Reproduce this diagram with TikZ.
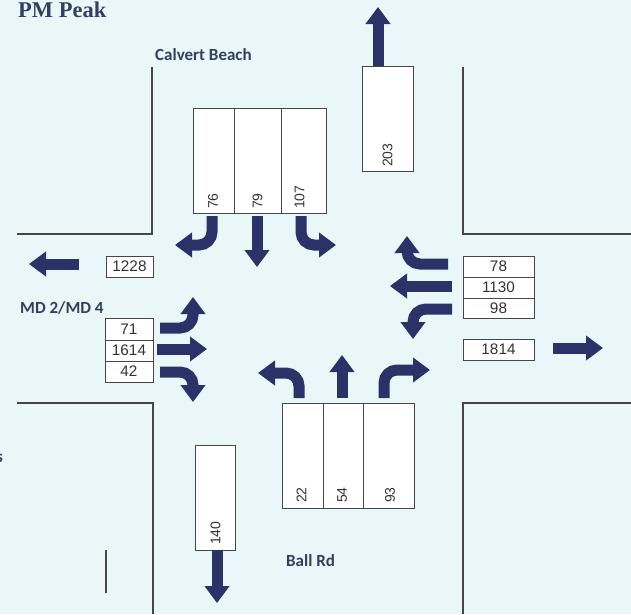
\documentclass[tikz,border=0pt]{standalone}
\usepackage{fontspec}
\setmainfont{Liberation Serif}
\newfontfamily\lblfont{Carlito}
\newfontfamily\numfont{Liberation Sans}
\usetikzlibrary{arrows.meta}
\definecolor{bgc}{RGB}{233,247,249}
\definecolor{navy}{RGB}{42,50,104}
\definecolor{labelc}{RGB}{52,62,98}
\definecolor{linec}{RGB}{70,70,70}
\begin{document}
\begin{tikzpicture}[x=1pt,y=-1pt,
  road/.style={draw=linec, line width=1.1pt},
  box/.style={draw=linec, fill=white, line width=0.9pt},
  num/.style={font=\numfont\fontsize{15.3}{16}\selectfont, text=black!80, inner sep=0pt},
  vnum/.style={font=\numfont\fontsize{14}{15}\selectfont, text=black!80, inner sep=0pt, rotate=90, anchor=west},
  hbox/.style={box, num, minimum height=21pt},
  rdlabel/.style={font=\lblfont\bfseries\fontsize{17}{18}\selectfont, text=labelc, inner sep=0pt, anchor=base west},
  arr/.style={draw=navy, line width=11pt, -{Triangle[width=24pt,length=17pt]}, rounded corners=13pt},
]
\fill[bgc] (0,0) rectangle (631,614);
\useasboundingbox (0,0) rectangle (631,614);

% titles and road names
\node[font=\bfseries\fontsize{22.5}{24}\selectfont, text=labelc, inner sep=0pt, anchor=base west] (title) at (18,17) {PM Peak};
\node[rdlabel] (calvert) at (155,60) {Calvert Beach};
\node[rdlabel] (md) at (20,313) {MD 2/MD 4};
\node[rdlabel] (ball) at (286,566) {Ball Rd};
\node[rdlabel, anchor=base east] (frag) at (3,462) {s};

% road edges
\draw[road] (17,234) -- (152,234) -- (152,67);
\draw[road] (463,67) -- (463,234) -- (631,234);
\draw[road] (17,403) -- (153,403) -- (153,614);
\draw[road] (631,403) -- (463,403) -- (463,614);
\draw[road] (106,550) -- (106,593);

% southbound approach
\draw[box] (193,108) rectangle (234,213);
\draw[box] (234,108) rectangle (281,213);
\draw[box] (281,108) rectangle (326,213);
\node[vnum] (sbl) at (213,209) {76};
\node[vnum] (sbt) at (257.5,209) {79};
\node[vnum] (sbr) at (299.5,209) {107};

% northbound departure
\draw[box] (362,66) rectangle (413,171);
\node[vnum] (nbd) at (387.5,167) {203};

% southbound departure
\draw[box] (195,445) rectangle (235,550);
\node[vnum] (sbd) at (215.5,545) {140};

% northbound approach
\draw[box] (282,403) rectangle (323,508);
\draw[box] (323,403) rectangle (363,508);
\draw[box] (363,403) rectangle (414,508);
\node[vnum] (nbl) at (301.5,503) {22};
\node[vnum] (nbt) at (342,503) {54};
\node[vnum] (nbr) at (390,503) {93};

% westbound departure and eastbound approach
\node[hbox, minimum width=47pt] (wbd) at (129.5,266.5) {1228};
\node[hbox, minimum width=48pt, minimum height=22pt] (ebl) at (129,329) {71};
\node[hbox, minimum width=48pt] (ebt) at (129,350.5) {1614};
\node[hbox, minimum width=48pt] (ebr) at (129,371.5) {42};

% westbound approach and eastbound departure
\node[hbox, minimum width=71pt] (wbr) at (498.5,266.5) {78};
\node[hbox, minimum width=71pt] (wbt) at (498.5,287.5) {1130};
\node[hbox, minimum width=71pt, minimum height=20pt] (wbl) at (498.5,308) {98};
\node[hbox, minimum width=71pt] (ebd) at (498.5,349.5) {1814};

% departure arrows
\draw[arr] (378,66) -- (378,7);
\draw[arr] (79,264) -- (29,264);
\draw[arr] (553,348) -- (603,348);
\draw[arr] (217,550) -- (217,603);

% southbound movements
\draw[arr] (212,216) |- (175,245);
\draw[arr] (257,216) -- (257,267);
\draw[arr] (301,216) |- (336,245);

% eastbound movements
\draw[arr] (160,328) -| (193,297);
\draw[arr] (157,349) -- (207,349);
\draw[arr] (160,372) -| (193,402);

% westbound movements
\draw[arr] (448,264) -| (407,236);
\draw[arr] (452,286) -- (390,286);
\draw[arr] (452,309) -| (413,339);

% northbound movements
\draw[arr] (299,398) |- (258,373);
\draw[arr] (342,398) -- (342,355);
\draw[arr] (384,398) |- (430,370);
\end{tikzpicture}
\end{document}
